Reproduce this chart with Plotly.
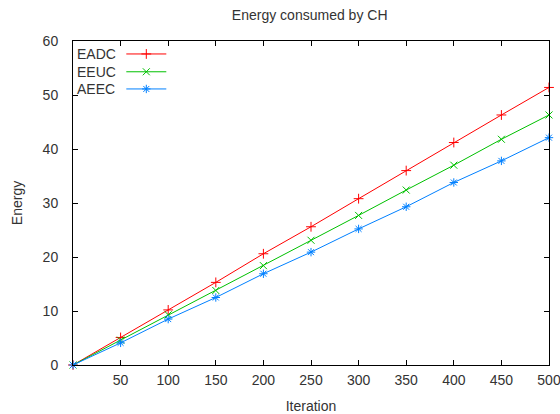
import plotly.graph_objects as go

iterations = [0, 50, 100, 150, 200, 250, 300, 350, 400, 450, 500]
eadc = [0, 5.1, 10.2, 15.3, 20.6, 25.6, 30.8, 36.0, 41.2, 46.3, 51.4]
eeuc = [0, 4.6, 9.3, 13.8, 18.4, 23.1, 27.7, 32.4, 37.0, 41.8, 46.3]
aeec = [0, 4.1, 8.5, 12.5, 16.9, 20.9, 25.2, 29.3, 33.8, 37.8, 42.1]
xticks = [50, 100, 150, 200, 250, 300, 350, 400, 450, 500]
series_names = ["EADC", "EEUC", "AEEC"]
colors = ["#ff0000", "#00c000", "#0080ff"]
symbols = ["cross-thin", "x-thin", "asterisk-open"]

FONT = "Liberation Sans, Arial, sans-serif"

fig = go.Figure()
for name, vals, col, sym in zip(series_names, [eadc, eeuc, aeec], colors, symbols):
    fig.add_trace(go.Scatter(
        x=iterations, y=vals, mode="lines+markers", name=name,
        line=dict(color=col, width=1),
        marker=dict(symbol=sym, size=7, color=col, line=dict(color=col, width=1)),
        showlegend=False, cliponaxis=False,
    ))

# custom legend (text left, sample right) in an overlay axis
leg_y = [0.96, 0.905, 0.852]
for name, col, sym, yy in zip(series_names, colors, symbols, leg_y):
    fig.add_trace(go.Scatter(
        x=[0.112, 0.154, 0.196], y=[yy, yy, yy], xaxis="x2", yaxis="y2",
        mode="lines", line=dict(color=col, width=1), showlegend=False, hoverinfo="skip"))
    fig.add_trace(go.Scatter(
        x=[0.154], y=[yy], xaxis="x2", yaxis="y2", mode="markers",
        marker=dict(symbol=sym, size=7, color=col, line=dict(color=col, width=1)),
        showlegend=False, hoverinfo="skip"))
    fig.add_annotation(x=0.004, y=yy, xref="x2", yref="y2", text=name, showarrow=False,
                       xanchor="left", yanchor="middle",
                       font=dict(family=FONT, size=14, color="#333333"))

fig.update_layout(
    width=560, height=414,
    margin=dict(l=73, r=11, t=41, b=49, autoexpand=False),
    paper_bgcolor="white", plot_bgcolor="white",
    title=dict(text="Energy consumed by CH", x=0.553, xanchor="center", y=0.964, yanchor="middle",
               font=dict(family=FONT, size=14, color="#333333")),
    font=dict(family=FONT, size=14, color="#333333"),
    xaxis=dict(range=[0, 500], tickvals=xticks, ticks="inside", ticklen=5, tickcolor="black",
               showline=True, linecolor="black", linewidth=1, mirror="ticks", showgrid=False,
               zeroline=False, ticklabeloverflow="allow", ticklabelstandoff=2, automargin=False,
               title=dict(text="Iteration", font=dict(size=14), standoff=16)),
    yaxis=dict(range=[0, 60], dtick=10, ticks="inside", ticklen=5, tickcolor="black",
               showline=True, linecolor="black", linewidth=1, mirror="ticks", showgrid=False,
               zeroline=False, ticklabelstandoff=11, automargin=False,
               title=dict(text="Energy", font=dict(size=14), standoff=16)),
    xaxis2=dict(range=[0, 1], overlaying="x", visible=False, fixedrange=True),
    yaxis2=dict(range=[0, 1], overlaying="y", visible=False, fixedrange=True),
)

fig.write_html("out.html")
